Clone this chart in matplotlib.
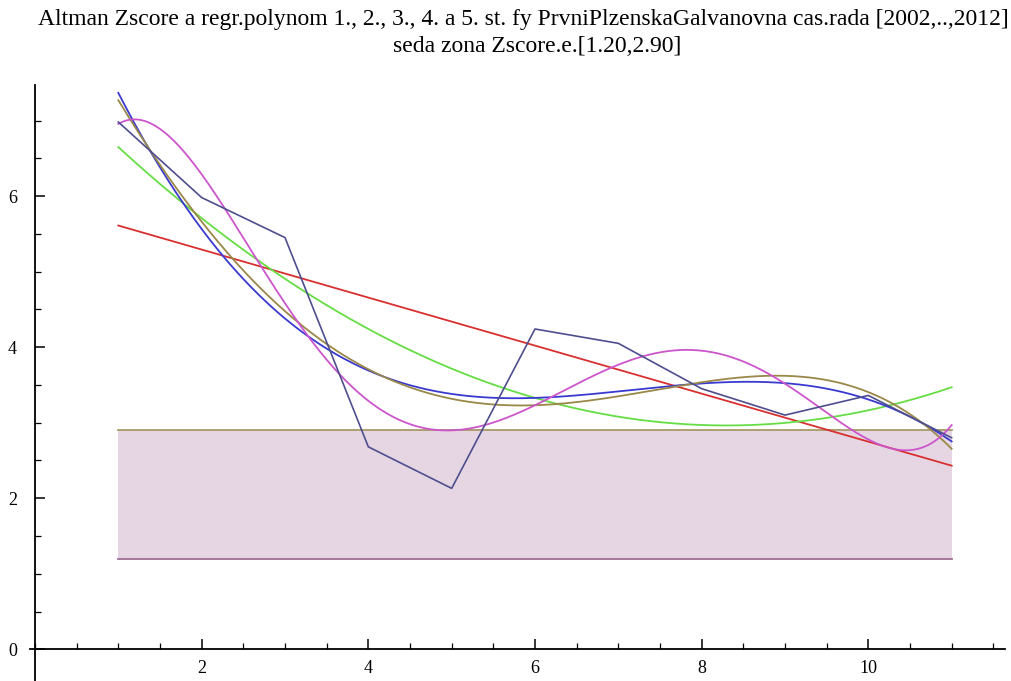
import matplotlib.pyplot as plt
import numpy as np
from matplotlib.ticker import MultipleLocator

# Altman Z-score of the company, years 2002..2012 as index 1..11
years = np.arange(1, 12)
zscore = [6.98, 5.98, 5.45, 2.68, 2.13, 4.24, 4.05, 3.45, 3.10, 3.36, 2.80]

# grey zone of the Z-score
zone_low, zone_high = 1.20, 2.90

# polynomial degrees and their colours
degrees = [1, 2, 3, 4, 5]
fit_colors = ['#d83030', '#66dd44', '#3a3ad0', '#9a8848', '#cc55cc']
data_color = '#4e4e8e'

fig = plt.figure(figsize=(10.12, 6.81), dpi=100)
# axes placed so that x=0 sits at pixel 35 and y=0 at pixel 649
ax = fig.add_axes([30 / 1012, 0, 975 / 1012, (681 - 85) / 681])
ax.set_xlim(-0.06, 11.64)
ax.set_ylim(-0.42, 7.47)

# grey zone
ax.fill_between([1, 11], zone_low, zone_high, color='#e6d6e3', lw=0, zorder=1)
ax.plot([1, 11], [zone_high, zone_high], color='#a89a68', lw=1.3, zorder=2)
ax.plot([1, 11], [zone_low, zone_low], color='#9a7090', lw=1.3, zorder=2)

# regression polynomials
xs = np.linspace(1, 11, 400)
for deg, col in zip(degrees, fit_colors):
    coef = np.polyfit(years, zscore, deg)
    ax.plot(xs, np.polyval(coef, xs), color=col, lw=1.3, zorder=3)

# the data themselves
ax.plot(years, zscore, color=data_color, lw=1.2, zorder=4)

# Mathematica-like axes through the origin
for s in ['top', 'right']:
    ax.spines[s].set_visible(False)
ax.spines['left'].set_position(('data', 0))
ax.spines['bottom'].set_position(('data', 0))
ax.spines['left'].set_linewidth(1.3)
ax.spines['bottom'].set_linewidth(1.3)
ax.xaxis.set_minor_locator(MultipleLocator(0.5))
ax.yaxis.set_minor_locator(MultipleLocator(0.5))
ax.set_xticks([2, 4, 6, 8, 10])
ax.set_yticks([0, 2, 4, 6])
ax.tick_params(axis='x', which='both', direction='in', pad=8)
ax.tick_params(axis='y', which='both', direction='in', pad=13)
ax.tick_params(which='major', length=7, width=1.1)
ax.tick_params(which='minor', length=4, width=0.9)
for lab in ax.get_xticklabels() + ax.get_yticklabels():
    lab.set_fontfamily('Liberation Serif')
    lab.set_fontsize(13)

fig.text(0.517, 0.971, 'Altman Zscore a regr.polynom 1., 2., 3., 4. a 5. st. fy PrvniPlzenskaGalvanovna cas.rada [2002,..,2012]',
         ha='center', va='center', fontsize=17, family='Liberation Serif')
fig.text(0.531, 0.931, 'seda zona Zscore.e.[1.20,2.90]',
         ha='center', va='center', fontsize=17, family='Liberation Serif')

fig.savefig('out.png', dpi=100)
